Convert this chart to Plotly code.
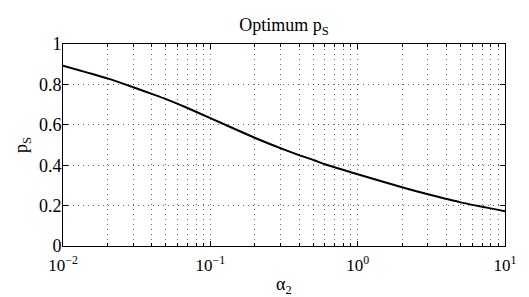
import plotly.graph_objects as go

alpha2 = [0.01, 0.02, 0.03, 0.04, 0.05, 0.07, 0.1, 0.2, 0.3, 0.4, 0.5, 0.6, 1.0, 2.0, 3.0, 4.0, 5.0, 10.0]
p_s = [0.893, 0.830, 0.786, 0.753, 0.727, 0.683, 0.633, 0.536, 0.484, 0.450, 0.426, 0.405, 0.355, 0.291, 0.256, 0.233, 0.216, 0.172]
x_tickvals = [0.01, 0.1, 1, 10]
x_ticktext = ["10<sup>−2</sup>", "10<sup>−1</sup>", "10<sup>0</sup>", "10<sup>1</sup>"]
x_minorvals = [m * d for d in (0.01, 0.1, 1) for m in range(2, 10)]
y_tickvals = [0, 0.2, 0.4, 0.6, 0.8, 1]
y_ticktext = ["0", "0.2", "0.4", "0.6", "0.8", "1"]

fam = "Liberation Serif, Times New Roman, serif"
gridc = "rgba(0,0,0,0.6)"
dash = "1px,4px"

fig = go.Figure()
fig.add_trace(go.Scatter(x=alpha2, y=p_s, mode="lines",
                         line=dict(color="black", width=2, shape="spline", smoothing=0.6)))

fig.update_layout(
    width=529, height=297,
    margin=dict(l=63, r=12, t=44, b=51),
    paper_bgcolor="white", plot_bgcolor="white",
    font=dict(family=fam, size=18, color="black"), showlegend=False,
    title=dict(text="Optimum p<sub>S</sub>", x=0.5, xref="paper", xanchor="center",
               y=1, yref="paper", yanchor="bottom", pad=dict(b=13),
               font=dict(family=fam, size=18, color="black")),
    annotations=[
        dict(text="α<sub>2</sub>", xref="paper", yref="paper", x=0.5, y=0, xanchor="center",
             yanchor="top", yshift=-26, showarrow=False, font=dict(family=fam, size=18, color="black")),
        dict(text="p<sub>S</sub>", xref="paper", yref="paper", x=0, y=0.5, xanchor="center",
             yanchor="middle", xshift=-41, textangle=-90, showarrow=False,
             font=dict(family=fam, size=18, color="black")),
    ],
)
fig.update_xaxes(
    type="log", range=[-2, 1],
    tickmode="array", tickvals=x_tickvals, ticktext=x_ticktext,
    tickfont=dict(family=fam, size=17, color="black"),
    ticklabelstandoff=4,
    showline=True, linecolor="black", linewidth=1, mirror="allticks",
    ticks="inside", ticklen=5, tickcolor="black",
    showgrid=True, gridcolor=gridc, griddash=dash, gridwidth=1,
    minor=dict(tickmode="array", tickvals=x_minorvals, ticks="inside", ticklen=3, tickcolor="black",
               showgrid=True, gridcolor=gridc, griddash=dash, gridwidth=1),
    zeroline=False,
)
fig.update_yaxes(
    range=[0, 1],
    tickmode="array", tickvals=y_tickvals, ticktext=y_ticktext,
    tickfont=dict(family=fam, size=18, color="black"),
    ticklabelstandoff=-3,
    showline=True, linecolor="black", linewidth=1, mirror="allticks",
    ticks="inside", ticklen=5, tickcolor="black",
    showgrid=True, gridcolor=gridc, griddash=dash, gridwidth=1,
    zeroline=False,
)
fig.write_html("out.html", config=dict(displayModeBar=False, responsive=False),
               post_script="document.body.style.margin='0';document.body.style.overflow='hidden';")
